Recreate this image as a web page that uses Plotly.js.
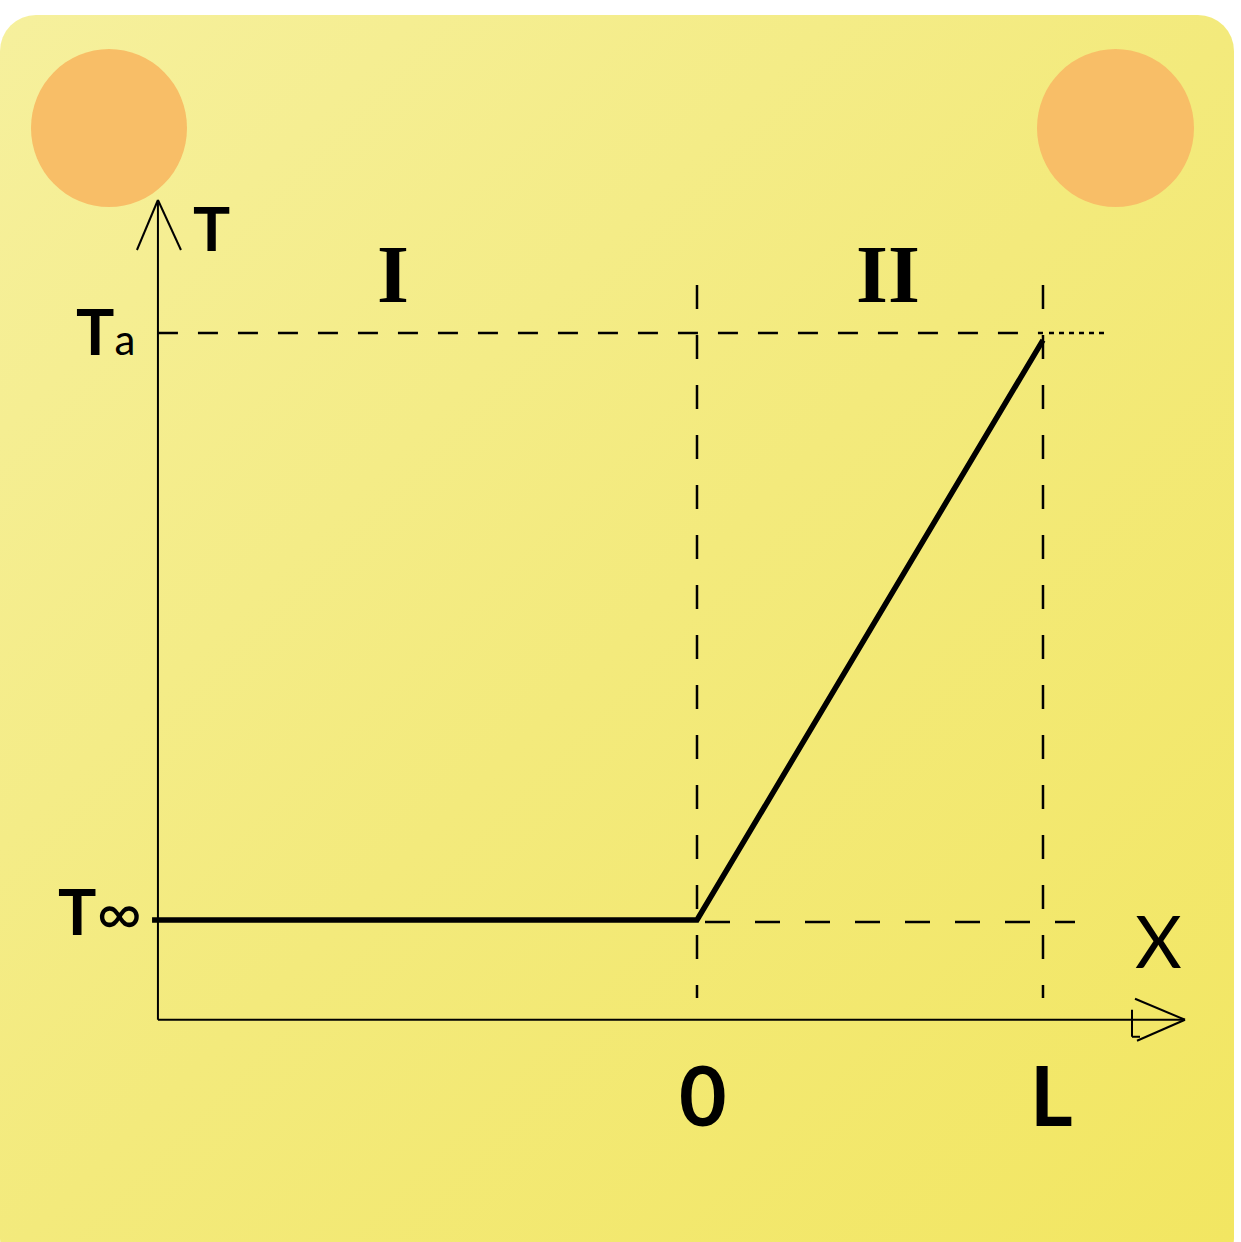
<!DOCTYPE html>
<html>
<head>
<meta charset="utf-8">
<script src="https://cdn.plot.ly/plotly-3.0.1.min.js"></script>
<style>
  html, body { margin: 0; padding: 0; background: #ffffff; overflow: hidden; }
  #card { position: absolute; left: 0; top: 15px; width: 1234px; height: 1260px;
          border-radius: 36px;
          background: linear-gradient(135deg, #F6F09D 0%, #F3EA7C 50%, #F2E661 100%); }
  #chart { position: absolute; left: 0; top: 0; width: 1241px; height: 1242px; }
</style>
</head>
<body>
<div id="card"></div>
<div id="chart"></div>
<script>
// ---- data (dimensionless: x in units of L, T scaled so T_inf = 0, T_a = 1) ----
const xProfile = [-1.575, 0, 1];       // left edge of region I, interface 0, wall L
const tProfile = [0, 0, 0.988];        // temperature profile
const T_inf = 0;
const T_a = 1;
const xZero = 0;
const xL = 1;
const axisOriginX = -1.558;
const axisOriginY = -0.170;
const tickLabels = ["0", "L"];
const regionLabels = ["I", "II"];

// ---- scale set-up ----
const W = 1241, H = 1242;
const xRange = [-2.0145, 1.5723];
const yRange = [-0.5486, 1.5673];
const dx = (xRange[1] - xRange[0]) / W;   // data per px
const dy = (yRange[1] - yRange[0]) / H;
const px2x = p => xRange[0] + p * dx;
const py2y = p => yRange[1] - p * dy;

const black = '#000000';
const font = 'Lato, "Open Sans", sans-serif';

const traces = [
  // main temperature profile
  { x: xProfile, y: tProfile, mode: 'lines', hoverinfo: 'skip',
    line: { color: black, width: 5.5, shape: 'linear' } }
];

const shapes = [];
function seg(x0, y0, x1, y1, width, dash) {
  shapes.push({ type: 'line', xref: 'x', yref: 'y', x0, y0, x1, y1,
                line: { color: black, width, dash: dash || 'solid' } });
}
// decorative circles
shapes.push({ type: 'circle', xref: 'x', yref: 'y', layer: 'below',
  x0: px2x(31), x1: px2x(187), y0: py2y(49), y1: py2y(207),
  fillcolor: '#F8BE67', line: { width: 0 } });
shapes.push({ type: 'circle', xref: 'x', yref: 'y', layer: 'below',
  x0: px2x(1037), x1: px2x(1194), y0: py2y(49), y1: py2y(207),
  fillcolor: '#F8BE67', line: { width: 0 } });

// axes
const yTop = py2y(203), xRight = px2x(1185);
seg(axisOriginX, axisOriginY, axisOriginX, yTop, 2);
seg(axisOriginX, axisOriginY, xRight, axisOriginY, 2);
// arrowheads (open chevrons)
seg(axisOriginX - 21 * dx, yTop - 47 * dy, axisOriginX, yTop + 3 * dy, 2);
seg(axisOriginX, yTop + 3 * dy, axisOriginX + 23 * dx, yTop - 47 * dy, 2);
seg(xRight - 50 * dx, axisOriginY + 21 * dy, xRight, axisOriginY, 2);
seg(xRight, axisOriginY, xRight - 48 * dx, axisOriginY - 21 * dy, 2);
seg(xRight - 53 * dx, axisOriginY + 10 * dy, xRight - 53 * dx, axisOriginY - 17 * dy, 2);
seg(xRight - 53 * dx, axisOriginY - 17 * dy, xRight - 45 * dx, axisOriginY - 17 * dy, 2);

// guide lines
seg(axisOriginX, T_a, xL, T_a, 2.5, '20px,20px');
seg(xL + 6 * dx, T_a, xL + 62 * dx, T_a, 2.5, '5px,5px');
seg(xZero + 8 * dx, T_inf - 2 * dy, xL + 32 * dx, T_inf - 2 * dy, 2.5, '25px,25px');
seg(xZero, py2y(285), xZero, py2y(998), 2.5, '24px,26px');
seg(xL, py2y(285), xL, py2y(998), 2.5, '24px,26px');

// labels
const annotations = [];
function label(text, x, y, size, extra) {
  annotations.push(Object.assign({ text, x, y, xref: 'x', yref: 'y', showarrow: false,
    xanchor: 'center', yanchor: 'middle',
    font: { family: font, size, color: black, weight: 700 } }, extra || {}));
}
label('T', px2x(211), py2y(227), 62);
label('T<span style="font-size:42px;font-weight:400">a</span>', px2x(105), py2y(330), 64);
label('T<span style="font-size:62px;font-weight:400">∞</span>', px2x(100), py2y(910), 64);
label(regionLabels[0], px2x(393), py2y(274), 82, { font: { family: '"Liberation Serif", serif', size: 82, color: black, weight: 700 } });
label(regionLabels[1], px2x(888), py2y(274), 82, { font: { family: '"Liberation Serif", serif', size: 82, color: black, weight: 700 } });
label('X', px2x(1158), py2y(940), 72, { font: { family: font, size: 72, color: black, weight: 400 } });
label(tickLabels[0], xZero + 6 * dx, py2y(1094), 82);
label(tickLabels[1], xL + 9 * dx, py2y(1094), 82);

const layout = {
  width: W, height: H, autosize: false,
  margin: { l: 0, r: 0, t: 0, b: 0, pad: 0 },
  paper_bgcolor: 'rgba(0,0,0,0)', plot_bgcolor: 'rgba(0,0,0,0)',
  showlegend: false,
  xaxis: { range: xRange, visible: false, fixedrange: true },
  yaxis: { range: yRange, visible: false, fixedrange: true },
  shapes, annotations
};
Plotly.newPlot('chart', traces, layout, { staticPlot: true, displayModeBar: false });
</script>
</body>
</html>
